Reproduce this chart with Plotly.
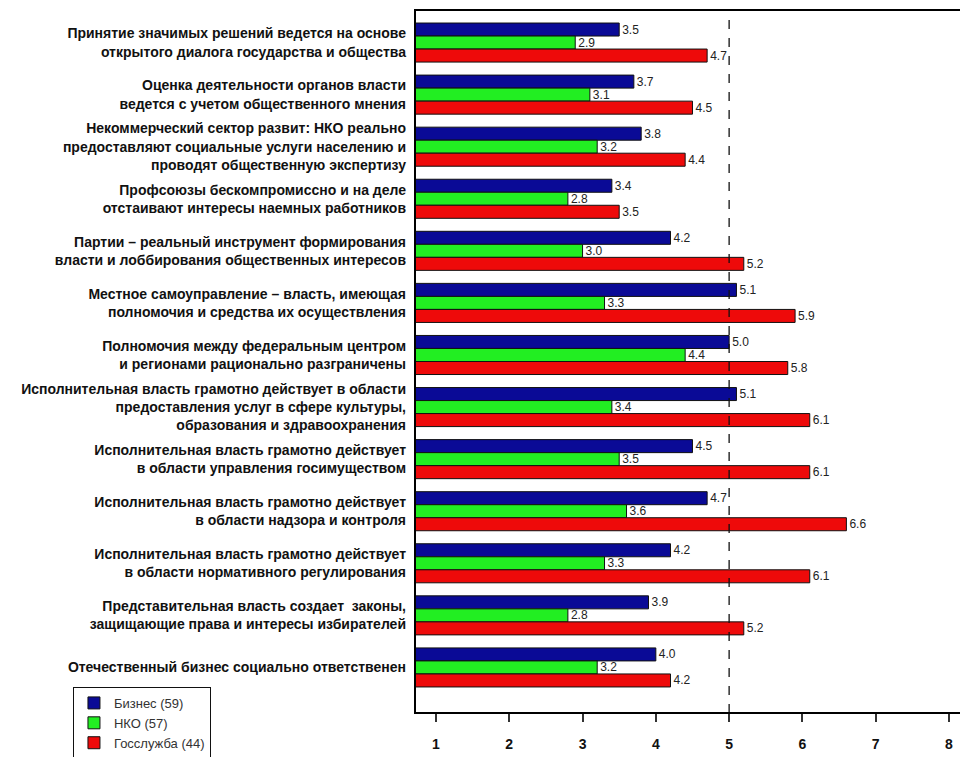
import plotly.graph_objects as go

categories = [
    "Принятие значимых решений ведется на основе<br>открытого диалога государства и общества",
    "Оценка деятельности органов власти<br>ведется с учетом общественного мнения",
    "Некоммерческий сектор развит: НКО реально<br>предоставляют социальные услуги населению и<br>проводят общественную экспертизу",
    "Профсоюзы бескомпромиссно и на деле<br>отстаивают интересы наемных работников",
    "Партии – реальный инструмент формирования<br>власти и лоббирования общественных интересов",
    "Местное самоуправление – власть, имеющая<br>полномочия и средства их осуществления",
    "Полномочия между федеральным центром<br>и регионами рационально разграничены",
    "Исполнительная власть грамотно действует в области<br>предоставления услуг в сфере культуры,<br>образования и здравоохранения",
    "Исполнительная власть грамотно действует<br>в области управления госимуществом",
    "Исполнительная власть грамотно действует<br>в области надзора и контроля",
    "Исполнительная власть грамотно действует<br>в области нормативного регулирования",
    "Представительная власть создает  законы,<br>защищающие права и интересы избирателей",
    "Отечественный бизнес социально ответственен",
]

business = [3.5, 3.7, 3.8, 3.4, 4.2, 5.1, 5.0, 5.1, 4.5, 4.7, 4.2, 3.9, 4.0]
nko = [2.9, 3.1, 3.2, 2.8, 3.0, 3.3, 4.4, 3.4, 3.5, 3.6, 3.3, 2.8, 3.2]
gos = [4.7, 4.5, 4.4, 3.5, 5.2, 5.9, 5.8, 6.1, 6.1, 6.6, 6.1, 5.2, 4.2]

series_names = ["Бизнес (59)", "НКО (57)", "Госслужба (44)"]
series_colors = ["#0a0a96", "#22ee22", "#ee0a0a"]
x_ticks = [1, 2, 3, 4, 5, 6, 7, 8]
ref_value = 5

FONT = "Liberation Sans, Arial, sans-serif"

fig = go.Figure()
for name, vals, col in zip(series_names, [business, nko, gos], series_colors):
    fig.add_trace(go.Bar(
        y=categories, x=vals, name=name, orientation="h",
        marker=dict(color=col, line=dict(color="#111111", width=1)),
        text=[f"{v:.1f}" for v in vals], textposition="outside",
        textfont=dict(family=FONT, size=12, color="#222222"),
        constraintext="none", cliponaxis=False,
    ))

fig.add_shape(type="line", xref="x", yref="paper", x0=ref_value, x1=ref_value, y0=0, y1=1,
              line=dict(color="#111111", width=1.3, dash="dash"), layer="above")
# plot frame (right side lies beyond the visible page, as in the reference)
fig.add_shape(type="rect", xref="paper", yref="paper", x0=0, x1=1.05, y0=0, y1=1,
              line=dict(color="#000000", width=2), fillcolor="rgba(0,0,0,0)", layer="above")

fig.update_layout(
    width=960, height=757,
    paper_bgcolor="white", plot_bgcolor="white",
    barmode="group", bargap=0.25, bargroupgap=0,
    margin=dict(l=415, r=0, t=10, b=44, autoexpand=False),
    font=dict(family=FONT, color="#222222"),
    legend=dict(
        xref="container", yref="container", x=0.076, y=0.0925,
        xanchor="left", yanchor="top",
        bgcolor="white", bordercolor="#111111", borderwidth=1,
        font=dict(size=13, color="#333333"), itemwidth=30,
        traceorder="normal",
    ),
    showlegend=True,
)
fig.update_xaxes(
    range=[0.714, 8.15], tickvals=x_ticks, ticks="outside", ticklen=8, tickwidth=1.5,
    tickcolor="#333333", showline=False,
    showgrid=False, zeroline=False, ticklabelstandoff=10,
    tickfont=dict(size=14, color="#111111", family=FONT, weight="bold"),
)
fig.update_yaxes(
    type="category", categoryorder="array", categoryarray=categories,
    range=[12.875, -0.625], ticks="", showline=False,
    showgrid=False, zeroline=False, ticklabelstandoff=8,
    tickfont=dict(size=14, color="#111111", family=FONT, weight="bold"),
)

fig.write_html("out.html", config={"displayModeBar": False},
               post_script="document.body.style.margin='0';")
